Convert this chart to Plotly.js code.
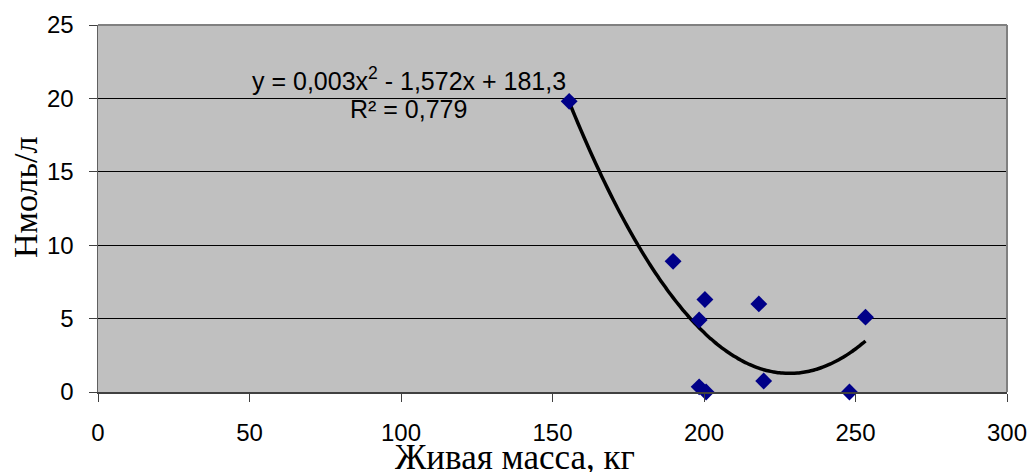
<!DOCTYPE html>
<html>
<head>
<meta charset="utf-8">
<script src="https://cdn.plot.ly/plotly-3.0.1.min.js"></script>
<style>html,body{margin:0;padding:0;background:#fff;}#chart{width:1032px;height:472px;}</style>
</head>
<body>
<div id="chart"></div>
<script>
// Data
const liveMass = [155.5, 189.8, 200.3, 198.4, 218.1, 253.3, 198.4, 200.7, 219.7, 248.0];
const nmolL    = [19.8, 8.9, 6.3, 4.9, 6.0, 5.1, 0.35, 0.0, 0.75, 0.0];
const xTicks = [0, 50, 100, 150, 200, 250, 300];
const yTicks = [0, 5, 10, 15, 20, 25];
const equationText = "y = 0,003x<sup>2</sup> - 1,572x + 181,3";
const r2Text = "R² = 0,779";
const xTitle = "Живая масса, кг";
const yTitle = "Нмоль/л";

// Quadratic least-squares trendline from the data
function polyfit2(xs, ys) {
  let S = [0,0,0,0,0], T = [0,0,0];
  for (let i = 0; i < xs.length; i++) {
    let p = 1;
    for (let k = 0; k < 5; k++) { S[k] += p; if (k < 3) T[k] += p * ys[i]; p *= xs[i]; }
  }
  const A = [[S[0],S[1],S[2],T[0]],[S[1],S[2],S[3],T[1]],[S[2],S[3],S[4],T[2]]];
  for (let c = 0; c < 3; c++) {
    for (let r = c + 1; r < 3; r++) {
      const f = A[r][c] / A[c][c];
      for (let k = c; k < 4; k++) A[r][k] -= f * A[c][k];
    }
  }
  const sol = [0,0,0];
  for (let r = 2; r >= 0; r--) {
    let s = A[r][3];
    for (let k = r + 1; k < 3; k++) s -= A[r][k] * sol[k];
    sol[r] = s / A[r][r];
  }
  return sol; // c0, c1, c2
}
const coef = polyfit2(liveMass, nmolL);
const xMin = Math.min(...liveMass), xMax = Math.max(...liveMass);
const trendX = [], trendY = [];
for (let i = 0; i <= 100; i++) {
  const x = xMin + (xMax - xMin) * i / 100;
  trendX.push(x);
  trendY.push(coef[0] + coef[1] * x + coef[2] * x * x);
}

const traces = [
  { x: trendX, y: trendY, mode: 'lines', type: 'scatter',
    line: { color: '#000000', width: 3.5, shape: 'spline' }, hoverinfo: 'skip' },
  { x: liveMass, y: nmolL, mode: 'markers', type: 'scatter',
    marker: { symbol: 'diamond', size: 13, color: '#000088', line: { width: 0 } }, cliponaxis: false }
];

const tickFont = { family: 'Liberation Sans, Arial, sans-serif', size: 24, color: '#000' };
const layout = {
  width: 1032, height: 472,
  margin: { l: 98, r: 25, t: 25, b: 80, pad: 0 },
  paper_bgcolor: '#ffffff',
  plot_bgcolor: '#c0c0c0',
  showlegend: false,
  font: tickFont,
  xaxis: {
    range: [0, 300], tickvals: xTicks, ticktext: xTicks.map(String),
    showgrid: false, zeroline: false,
    showline: true, linecolor: '#404040', linewidth: 2,
    mirror: false,
    ticks: 'outside', ticklen: 8, tickcolor: '#404040', tickwidth: 1,
    ticklabelstandoff: 10,
    tickfont: tickFont
  },
  yaxis: {
    range: [0, 25], tickvals: yTicks, ticktext: yTicks.map(String),
    showgrid: true, gridcolor: '#000000', gridwidth: 1.3,
    zeroline: false,
    showline: true, linecolor: '#606060', linewidth: 1.5,
    ticks: 'outside', ticklen: 8, tickcolor: '#404040', tickwidth: 1,
    ticklabelstandoff: 10,
    tickfont: tickFont
  },
  shapes: [
    { type: 'line', xref: 'paper', yref: 'paper', x0: 0, x1: 1, y0: 1, y1: 1, line: { color: '#808080', width: 2 } },
    { type: 'line', xref: 'paper', yref: 'paper', x0: 1, x1: 1, y0: 0, y1: 1, line: { color: '#808080', width: 2 } }
  ],
  annotations: [
    { text: equationText, xref: 'x', yref: 'y', x: 102.6, y: 21.3, xanchor: 'center', yanchor: 'middle',
      showarrow: false, font: { family: 'Liberation Sans, Arial, sans-serif', size: 25, color: '#000' } },
    { text: r2Text, xref: 'x', yref: 'y', x: 102.6, y: 19.25, xanchor: 'center', yanchor: 'middle',
      showarrow: false, font: { family: 'Liberation Sans, Arial, sans-serif', size: 25, color: '#000' } },
    { text: xTitle, xref: 'paper', yref: 'paper', x: 0.459, y: 0, yshift: -65, xanchor: 'center', yanchor: 'middle',
      showarrow: false, font: { family: 'Liberation Serif, Times New Roman, serif', size: 35, color: '#000' } },
    { text: yTitle, xref: 'paper', yref: 'paper', x: 0, xshift: -73, y: 0.531, xanchor: 'center', yanchor: 'middle',
      textangle: -90, showarrow: false, font: { family: 'Liberation Serif, Times New Roman, serif', size: 34, color: '#000' } }
  ]
};

Plotly.newPlot('chart', traces, layout, { staticPlot: true, displayModeBar: false });
</script>
</body>
</html>
